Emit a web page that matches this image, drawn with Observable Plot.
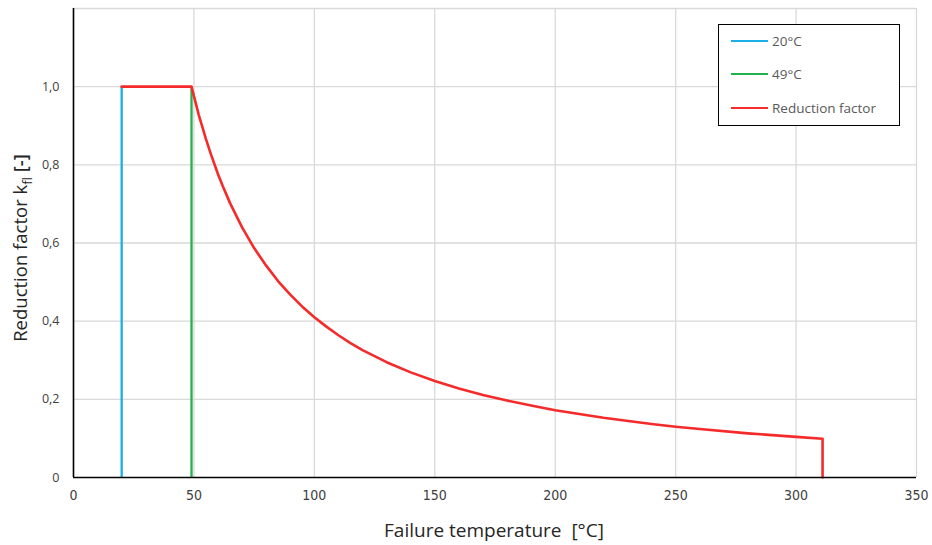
<!DOCTYPE html>
<html><head><meta charset="utf-8">
<script src="https://cdn.jsdelivr.net/npm/d3@7"></script>
<script src="https://cdn.jsdelivr.net/npm/@observablehq/plot@0.6"></script>
<style>
body{margin:0;background:#fff}
#wrap{position:relative;width:932px;height:545px}
#legend{position:absolute;left:718px;top:24px;width:182px;height:102px;border:1.5px solid #000;background:#fff;box-sizing:border-box;font-family:"Open Sans",sans-serif;font-size:13.5px;color:#595959}
.item{position:absolute;left:12px;height:20px;display:flex;align-items:center}
.sw{width:37px;height:2.5px;margin-right:4px}
</style></head><body><div id="wrap"><div id="legend"></div></div>
<script>
// Reference temperature lines
const refTemps = [20, 49];
const refLabels = ["20°C", "49°C"];
const refColors = ["#1aaee6", "#22b14c"];
// Reduction factor curve
const curveTemps   = [20, 49, 52, 55, 57, 60, 62, 65, 70, 75, 80, 85, 90, 95, 100, 105, 110, 115, 120, 130, 140, 150, 160, 170, 180, 190, 200, 220, 240, 250, 260, 280, 300, 311, 311];
const curveFactors = [1.0, 1.0, 0.928, 0.866, 0.828, 0.776, 0.745, 0.702, 0.640, 0.587, 0.542, 0.502, 0.468, 0.437, 0.410, 0.386, 0.364, 0.344, 0.326, 0.295, 0.269, 0.247, 0.228, 0.211, 0.197, 0.184, 0.172, 0.153, 0.137, 0.130, 0.124, 0.113, 0.104, 0.099, 0];
const curveLabel = "Reduction factor";
const curveColor = "#f52a2a";
// Axis ticks
const xTicks = [0, 50, 100, 150, 200, 250, 300, 350];
const yGrid = [0.2, 0.4, 0.6, 0.8, 1.0, 1.2];
const yTicks = [0, 0.2, 0.4, 0.6, 0.8, 1.0];

const curve = curveTemps.map((t, i) => ({t, k: curveFactors[i]}));
const refs = refTemps.map((t, i) => ({t, c: refColors[i]}));

const chart = Plot.plot({
  width: 932, height: 545,
  marginLeft: 73, marginRight: 16, marginTop: 8, marginBottom: 68,
  style: {fontFamily: "Open Sans, sans-serif", background: "#fff"},
  x: {domain: [0, 350]},
  y: {domain: [0, 1.2]},
  marks: [
    Plot.gridX(xTicks, {stroke: "#d9d9d9", strokeOpacity: 1, strokeWidth: 1.3}),
    Plot.gridY(yGrid, {stroke: "#d9d9d9", strokeOpacity: 1, strokeWidth: 1.3}),
    Plot.axisX(xTicks, {tickSize: 0, tickPadding: 13, label: null, fontSize: 14, fill: "#404040", fontFamily: "Liberation Sans Narrow, DejaVu Sans Condensed, sans-serif"}),
    Plot.axisY(yTicks, {tickSize: 0, tickPadding: 14, label: null, fontSize: 12.5, fill: "#404040",
      tickFormat: d => d === 0 ? "0" : d.toFixed(1).replace(".", ",")}),
    Plot.ruleX(refs, {x: "t", y1: 0, y2: 1.0, stroke: "c", strokeWidth: 2.3}),
    Plot.line(curve, {x: "t", y: "k", stroke: curveColor, strokeWidth: 2.6}),
    Plot.ruleY([0], {stroke: "#000", strokeWidth: 1.6}),
    Plot.ruleX([0], {stroke: "#000", strokeWidth: 1.6})
  ]
});

const svg = d3.select(chart);
const yt = svg.append("text")
  .attr("transform", "translate(27,248) rotate(-90)")
  .attr("text-anchor", "middle")
  .attr("font-size", 18.5).attr("fill", "#262626")
  .attr("font-family", "Open Sans, sans-serif");
yt.append("tspan").text("Reduction factor k");
yt.append("tspan").attr("font-size", 13).attr("dy", 5).text("fl");
yt.append("tspan").attr("dy", -5).attr("font-weight", 600).text(" [-]");
svg.append("text")
  .attr("x", 494).attr("y", 537)
  .attr("text-anchor", "middle")
  .attr("font-size", 19).attr("fill", "#262626")
  .attr("font-family", "Open Sans, sans-serif")
  .attr("xml:space", "preserve")
  .text("Failure temperature  [°C]");

document.getElementById("wrap").prepend(chart);

const legend = document.getElementById("legend");
const items = [...refLabels.map((l, i) => [l, refColors[i]]), [curveLabel, curveColor]];
const tops = [6, 39, 73];
items.forEach(([l, c], i) => {
  const d = document.createElement("div");
  d.className = "item";
  d.style.top = tops[i] + "px";
  d.innerHTML = `<span class="sw" style="background:${c}"></span><span>${l}</span>`;
  legend.appendChild(d);
});
</script></body></html>
